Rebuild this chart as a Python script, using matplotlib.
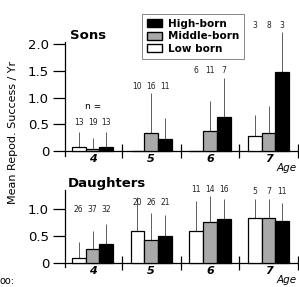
import matplotlib.pyplot as plt
import numpy as np
from matplotlib.patches import Patch

ages = [4, 5, 6, 7]
age_labels = ['4', '5', '6', '7']
legend_labels = ['High-born', 'Middle-born', 'Low born']

# sons: means, upper error lengths, sample sizes
sons_low = [0.08, 0.01, 0.01, 0.28]
sons_mid = [0.04, 0.33, 0.37, 0.34]
sons_high = [0.08, 0.22, 0.64, 1.47]
sons_low_err = [0.28, 0.0, 0.0, 0.39]
sons_mid_err = [0.21, 0.75, 0.56, 0.51]
sons_high_err = [0.28, 0.39, 0.72, 0.75]
sons_n_low = [13, 10, 6, 3]
sons_n_mid = [19, 16, 11, 8]
sons_n_high = [13, 11, 7, 3]
sons_n_y = [0.53, 1.2, 1.5, 2.35]

# daughters
dau_low = [0.09, 0.59, 0.59, 0.84]
dau_mid = [0.25, 0.42, 0.76, 0.84]
dau_high = [0.34, 0.49, 0.81, 0.77]
dau_low_err = [0.30, 0.64, 0.57, 0.36]
dau_mid_err = [0.34, 0.51, 0.49, 0.36]
dau_high_err = [0.39, 0.40, 0.38, 0.34]
dau_n_low = [26, 20, 11, 5]
dau_n_mid = [37, 26, 14, 7]
dau_n_high = [32, 21, 16, 11]
dau_n_y = [1.0, 1.13, 1.36, 1.33]

colors = ['white', '#a9a9a9', 'black']
W = 0.235

fig = plt.figure(figsize=(2.99, 2.87), dpi=100)
ax1 = fig.add_axes([65/299, 0.455, 234/299, 0.399])
ax2 = fig.add_axes([65/299, 0.0704, 234/299, 0.2676])


def panel(ax, means, errs, ns, ny, yticks, ylim, title, tx):
    x = np.array(ages, dtype=float)
    for k, (m, e, n) in enumerate(zip(means, errs, ns)):
        xs = x + (k - 1) * W
        ax.bar(xs, m, width=W, color=colors[k], edgecolor='black', linewidth=0.9, zorder=3)
        eb = ax.errorbar(xs, m, yerr=[np.zeros(len(e)), e], fmt='none', ecolor='#444444',
                         elinewidth=0.6, capsize=0, zorder=2)
        for ln in eb[2]:
            ln.set_clip_on(False)
        for xi, ni, yi in zip(xs, n, ny):
            ax.text(xi, yi, str(ni), ha='center', va='center', fontsize=5.5, color='#222222')
    ax.set_xlim(3.53, 7.52)
    ax.set_ylim(*ylim)
    ax.set_yticks(yticks)
    ax.set_yticklabels(['0' if t == 0 else f'{t:.1f}' for t in yticks], fontsize=9.5)
    ax.set_xticks([4.5, 5.5, 6.5, 7.5])
    ax.set_xticklabels([])
    ax.tick_params(axis='x', direction='inout', length=10, width=0.9)
    ax.tick_params(axis='y', direction='out', length=8.5, width=0.9, pad=3)
    ax.spines['top'].set_visible(False)
    ax.spines['right'].set_visible(False)
    ax.spines['bottom'].set_position(('data', 0))
    ax.spines['left'].set_linewidth(0.9)
    ax.spines['bottom'].set_linewidth(0.9)
    for a, lab in zip(ages, age_labels):
        ax.annotate(lab, (a, 0), xycoords='data', xytext=(0, -8), textcoords='offset pixels',
                    ha='center', va='center', fontsize=8, fontweight='bold', style='italic')
    ax.annotate('Age', (7.5, 0), xycoords='data', xytext=(-1, -17), textcoords='offset pixels',
                ha='right', va='center', fontsize=7.5, style='italic')
    ax.text(tx, 1.0, title, transform=ax.transAxes, ha='left', va='bottom',
            fontsize=9.5, fontweight='bold')


panel(ax1, [sons_low, sons_mid, sons_high], [sons_low_err, sons_mid_err, sons_high_err],
      [sons_n_low, sons_n_mid, sons_n_high], sons_n_y,
      [0, 0.5, 1.0, 1.5, 2.0], (-0.1, 2.04), 'Sons', 0.02)
ax1.text(4.0, 0.84, 'n =', ha='center', va='center', fontsize=6.5)

panel(ax2, [dau_low, dau_mid, dau_high], [dau_low_err, dau_mid_err, dau_high_err],
      [dau_n_low, dau_n_mid, dau_n_high], dau_n_y,
      [0, 0.5, 1.0], (-0.08, 1.36), 'Daughters', 0.01)

handles = [Patch(facecolor=colors[2], edgecolor='black'),
           Patch(facecolor=colors[1], edgecolor='black'),
           Patch(facecolor=colors[0], edgecolor='black')]
leg = fig.legend(handles, legend_labels, loc='upper left', bbox_to_anchor=(137/299, 1 - 9/287),
                 frameon=True, fancybox=False, handlelength=1.45, handleheight=0.8,
                 borderpad=0.45, labelspacing=0.25, handletextpad=0.6,
                 prop={'weight': 'bold', 'size': 7.5})
leg.get_frame().set_edgecolor('#666666')
leg.get_frame().set_linewidth(0.7)

fig.text(13/299, 1 - 132/287, 'Mean Repod. Success / Yr', rotation=90, ha='center', va='center', fontsize=8)
fig.text(0.0, 6/287, 'oo:', ha='left', va='center', fontsize=7)

fig.savefig('out.png', dpi=100)
